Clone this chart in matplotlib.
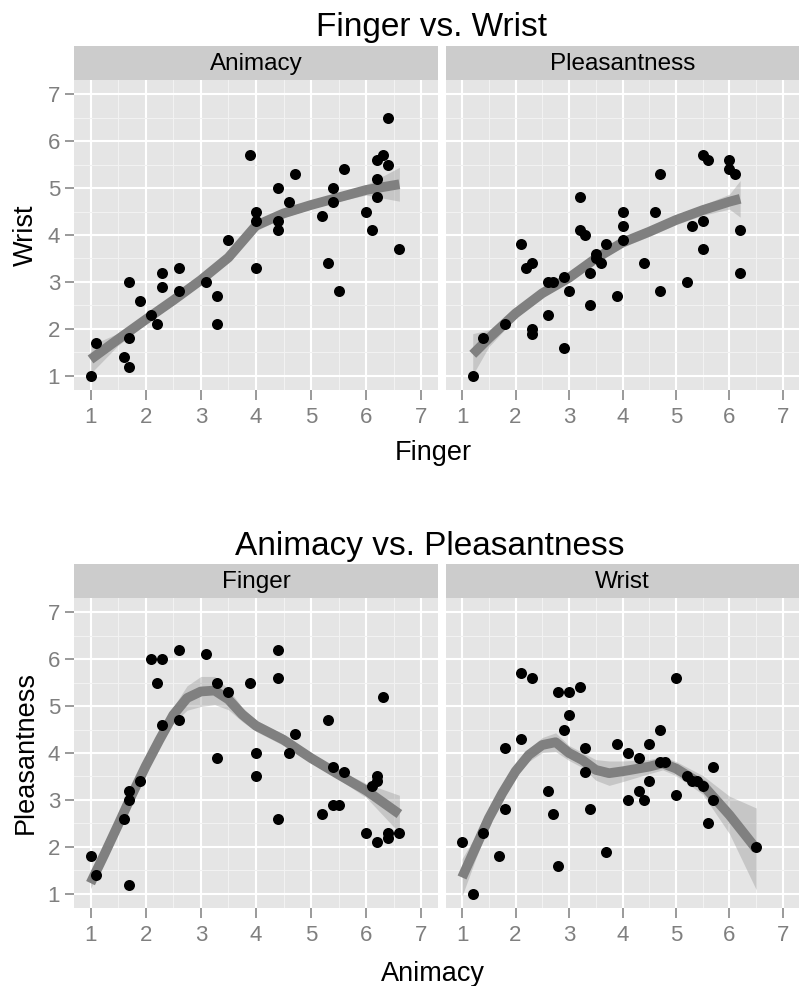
import numpy as np
import matplotlib
matplotlib.use('Agg')
import matplotlib.pyplot as plt

plt.rcParams['font.family'] = ['Liberation Sans', 'DejaVu Sans']

# Finger vs. Wrist -- Animacy facet (x = Finger, y = Wrist)
fw_anim_x = [1.0, 1.1, 1.6, 1.7, 1.7, 1.7, 1.9, 2.1, 2.2, 2.3, 2.3, 2.6, 2.6, 3.1,
             3.3, 3.3, 3.5, 3.9, 4.0, 4.0, 4.0, 4.4, 4.4, 4.4, 4.6, 4.7, 5.2, 5.3,
             5.4, 5.4, 5.5, 5.6, 6.0, 6.1, 6.2, 6.2, 6.2, 6.3, 6.4, 6.4, 6.6]
fw_anim_y = [1.0, 1.7, 1.4, 1.2, 1.8, 3.0, 2.6, 2.3, 2.1, 2.9, 3.2, 2.8, 3.3, 3.0,
             2.1, 2.7, 3.9, 5.7, 3.3, 4.3, 4.5, 4.1, 4.3, 5.0, 4.7, 5.3, 4.4, 3.4,
             4.7, 5.0, 2.8, 5.4, 4.5, 4.1, 4.8, 5.2, 5.6, 5.7, 5.5, 6.5, 3.7]
# smoother: x, fitted value, half width of the band
fw_anim_sx = [1.0, 1.5, 2.0, 2.5, 3.0, 3.5, 3.75, 4.0, 4.5, 5.0, 5.5, 6.0, 6.6]
fw_anim_fit = [1.35, 1.78, 2.20, 2.61, 3.04, 3.52, 3.86, 4.20, 4.46, 4.64, 4.80, 4.96, 5.08]
fw_anim_se = [0.30, 0.13, 0.10, 0.09, 0.09, 0.10, 0.11, 0.11, 0.09, 0.08, 0.08, 0.11, 0.36]

# Finger vs. Wrist -- Pleasantness facet
fw_pleas_x = [1.2, 1.4, 1.8, 2.1, 2.2, 2.3, 2.3, 2.3, 2.6, 2.6, 2.7, 2.9, 2.9, 3.0,
              3.2, 3.2, 3.3, 3.4, 3.4, 3.5, 3.5, 3.6, 3.7, 3.9, 4.0, 4.0, 4.0, 4.4,
              4.6, 4.7, 4.7, 5.2, 5.3, 5.5, 5.5, 5.5, 5.6, 6.0, 6.0, 6.1, 6.2, 6.2]
fw_pleas_y = [1.0, 1.8, 2.1, 3.8, 3.3, 3.4, 2.0, 1.9, 3.0, 2.3, 3.0, 3.1, 1.6, 2.8,
              4.1, 4.8, 4.0, 3.2, 2.5, 3.6, 3.5, 3.4, 3.8, 2.7, 3.9, 4.2, 4.5, 3.4,
              4.5, 2.8, 5.3, 3.0, 4.2, 3.7, 4.3, 5.7, 5.6, 5.4, 5.6, 5.3, 3.2, 4.1]
fw_pleas_sx = [1.2, 1.5, 2.0, 2.5, 3.0, 3.5, 4.0, 4.5, 5.0, 5.5, 6.0, 6.2]
fw_pleas_fit = [1.46, 1.80, 2.33, 2.76, 3.09, 3.50, 3.84, 4.07, 4.32, 4.53, 4.71, 4.77]
fw_pleas_se = [0.44, 0.18, 0.10, 0.08, 0.08, 0.08, 0.10, 0.10, 0.10, 0.11, 0.16, 0.39]

# Animacy vs. Pleasantness -- Finger facet (x = Animacy, y = Pleasantness)
ap_fing_x = [1.0, 1.1, 1.6, 1.7, 1.7, 1.7, 1.9, 2.1, 2.2, 2.3, 2.3, 2.6, 2.6, 3.1,
             3.3, 3.3, 3.5, 3.9, 4.0, 4.0, 4.4, 4.4, 4.4, 4.6, 4.7, 5.2, 5.3, 5.4,
             5.4, 5.5, 5.6, 6.0, 6.1, 6.2, 6.2, 6.2, 6.3, 6.4, 6.4, 6.6]
ap_fing_y = [1.8, 1.4, 2.6, 1.2, 3.0, 3.2, 3.4, 6.0, 5.5, 4.6, 6.0, 4.7, 6.2, 6.1,
             3.9, 5.5, 5.3, 5.5, 3.5, 4.0, 2.6, 5.6, 6.2, 4.0, 4.4, 2.7, 4.7, 2.9,
             3.7, 2.9, 3.6, 2.3, 3.3, 2.1, 3.4, 3.5, 5.2, 2.2, 2.3, 2.3]
ap_fing_sx = [1.0, 1.25, 1.5, 1.75, 2.0, 2.25, 2.5, 2.75, 3.0, 3.25, 3.5, 3.75, 4.0,
              4.5, 5.0, 5.5, 6.0, 6.6]
ap_fing_fit = [1.23, 1.84, 2.47, 3.11, 3.72, 4.28, 4.81, 5.17, 5.31, 5.33, 5.14, 4.82,
               4.58, 4.28, 3.89, 3.54, 3.20, 2.70]
ap_fing_se = [0.12, 0.10, 0.09, 0.09, 0.10, 0.12, 0.17, 0.26, 0.32, 0.30, 0.22, 0.15,
              0.12, 0.12, 0.10, 0.10, 0.15, 0.40]

# Animacy vs. Pleasantness -- Wrist facet
ap_wrist_x = [1.0, 1.2, 1.4, 1.7, 1.8, 1.8, 2.1, 2.1, 2.3, 2.6, 2.7, 2.8, 2.8, 2.9,
              3.0, 3.0, 3.2, 3.3, 3.3, 3.4, 3.7, 3.9, 4.1, 4.1, 4.3, 4.3, 4.4, 4.5,
              4.5, 4.7, 4.7, 4.8, 5.0, 5.0, 5.2, 5.3, 5.4, 5.5, 5.6, 5.7, 5.7, 6.5]
ap_wrist_y = [2.1, 1.0, 2.3, 1.8, 2.8, 4.1, 4.3, 5.7, 5.6, 3.2, 2.7, 1.6, 5.3, 4.5,
              4.8, 5.3, 5.4, 3.6, 4.1, 2.8, 1.9, 4.2, 3.0, 4.0, 3.2, 3.9, 3.0, 3.4,
              4.2, 3.8, 4.5, 3.8, 3.1, 5.6, 3.5, 3.4, 3.4, 3.3, 2.5, 3.0, 3.7, 2.0]
ap_wrist_sx = [1.0, 1.25, 1.5, 1.75, 2.0, 2.25, 2.5, 2.75, 3.0, 3.25, 3.5, 3.75, 4.0,
               4.5, 4.75, 5.0, 5.5, 6.0, 6.5]
ap_wrist_fit = [1.35, 1.98, 2.61, 3.14, 3.61, 3.96, 4.17, 4.23, 4.00, 3.85, 3.64, 3.57,
                3.61, 3.71, 3.78, 3.67, 3.32, 2.68, 1.96]
ap_wrist_se = [0.40, 0.25, 0.15, 0.12, 0.12, 0.14, 0.16, 0.20, 0.16, 0.16, 0.22, 0.26,
               0.22, 0.15, 0.14, 0.15, 0.20, 0.40, 0.87]

ticks = [1, 2, 3, 4, 5, 6, 7]

W, H = 799, 986


def box(x0, y0, x1, y1):
    # pixel box (from top-left) -> figure fraction
    return [x0 / W, 1 - y1 / H, (x1 - x0) / W, (y1 - y0) / H]


def panel(fig, x, y, sx, fit, se, strip, x0, x1, top, first):
    sax = fig.add_axes(box(x0, top, x1, top + 34))
    sax.set_facecolor('#CCCCCC')
    sax.set_xticks([])
    sax.set_yticks([])
    for sp in sax.spines.values():
        sp.set_visible(False)
    sax.text(0.5, 0.47, strip, ha='center', va='center', fontsize=17.5,
             transform=sax.transAxes)

    ax = fig.add_axes(box(x0, top + 34, x1, top + 344))
    ax.set_facecolor('#E5E5E5')
    for sp in ax.spines.values():
        sp.set_visible(False)
    ax.set_xlim(0.7, 7.3)
    ax.set_ylim(0.7, 7.3)
    ax.set_xticks(ticks)
    ax.set_yticks(ticks)
    ax.set_xticks(np.arange(1.5, 7, 1), minor=True)
    ax.set_yticks(np.arange(1.5, 7, 1), minor=True)
    ax.grid(which='major', color='white', linewidth=1.5)
    ax.grid(which='minor', color='#F2F2F2', linewidth=0.8)
    ax.set_axisbelow(True)
    ax.tick_params(which='minor', length=0)
    ax.tick_params(axis='x', length=7.5, width=1.1, color='#7F7F7F',
                   labelcolor='#7F7F7F', labelsize=16, pad=5)
    ax.tick_params(axis='y', length=6.5, width=1.1, color='#7F7F7F',
                   labelcolor='#7F7F7F', labelsize=16, pad=3.5)
    if not first:
        ax.tick_params(axis='y', left=False, labelleft=False)

    sx = np.asarray(sx)
    fit = np.asarray(fit)
    se = np.asarray(se)
    ax.fill_between(sx, fit - se, fit + se, color='#999999', alpha=0.4,
                    linewidth=0, zorder=2)
    ax.plot(sx, fit, color='#808080', linewidth=7, solid_capstyle='butt',
            solid_joinstyle='round', zorder=3)
    ax.scatter(x, y, s=63, color='black', linewidths=0, zorder=4)
    return ax


fig = plt.figure(figsize=(W / 100, H / 100), dpi=100)

panel(fig, fw_anim_x, fw_anim_y, fw_anim_sx, fw_anim_fit, fw_anim_se,
      'Animacy', 74, 438, 46, True)
panel(fig, fw_pleas_x, fw_pleas_y, fw_pleas_sx, fw_pleas_fit, fw_pleas_se,
      'Pleasantness', 446, 799, 46, False)
fig.text(432 / W, 1 - 36 / H, 'Finger vs. Wrist', ha='center', va='baseline', fontsize=24)
fig.text(433 / W, 1 - 460 / H, 'Finger', ha='center', va='baseline', fontsize=19.5)
fig.text(26 / W, 1 - 235 / H, 'Wrist', ha='center', va='center', rotation=90, fontsize=19.5)

panel(fig, ap_fing_x, ap_fing_y, ap_fing_sx, ap_fing_fit, ap_fing_se,
      'Finger', 74, 438, 564, True)
panel(fig, ap_wrist_x, ap_wrist_y, ap_wrist_sx, ap_wrist_fit, ap_wrist_se,
      'Wrist', 446, 799, 564, False)
fig.text(430 / W, 1 - 555 / H, 'Animacy vs. Pleasantness', ha='center', va='baseline', fontsize=24)
fig.text(433 / W, 1 - 981 / H, 'Animacy', ha='center', va='baseline', fontsize=19.5)
fig.text(26 / W, 1 - 753 / H, 'Pleasantness', ha='center', va='center', rotation=90, fontsize=19.5)

fig.savefig('out.png', dpi=100)
